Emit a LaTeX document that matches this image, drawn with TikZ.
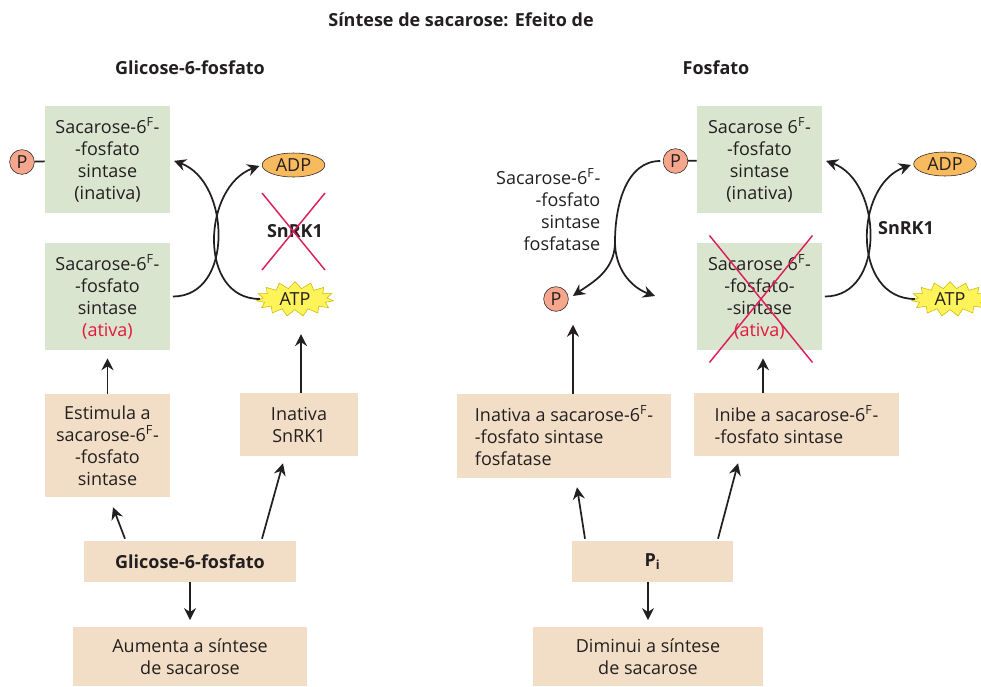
\documentclass[tikz,border=0pt]{standalone}
\usepackage{fontspec}
\setmainfont{Open Sans}
\usetikzlibrary{arrows.meta,shapes.geometric,shapes.symbols,calc}
\definecolor{ink}{HTML}{231F20}
\definecolor{leaf}{HTML}{D9E5CF}
\definecolor{wheat}{HTML}{F2DEC6}
\definecolor{salmon}{HTML}{F6A68C}
\definecolor{adporange}{HTML}{F8BA5E}
\definecolor{atpyellow}{HTML}{FFF35A}
\definecolor{atpedge}{HTML}{C9B800}
\definecolor{activered}{HTML}{E4173E}
\definecolor{crossred}{HTML}{DC1F5A}
\begin{document}
\begin{tikzpicture}[x=0.75pt, y=0.75pt, text=ink, font=\fontsize{13.5}{16.5}\selectfont,
    enzyme/.style={rectangle, fill=leaf, minimum width=93.75pt, minimum height=80.25pt, inner sep=0pt, align=center},
    effect/.style={rectangle, fill=wheat, inner sep=0pt, align=center},
    phos/.style={circle, draw=ink, fill=salmon, minimum size=18.5pt, inner sep=0pt},
    adp/.style={ellipse, draw=ink, fill=adporange, minimum width=47pt, minimum height=18pt, inner sep=0pt},
    atp/.style={starburst, starburst points=15, starburst point height=5pt, random starburst=0, draw=atpedge, fill=atpyellow, minimum width=58pt, minimum height=26pt, inner sep=0pt},
    head/.style={font=\fontsize{13.5}{16.5}\selectfont\bfseries},
    arr/.style={-{Stealth[length=9pt, width=9pt, inset=3pt]}, line width=1.3pt, draw=ink},
    bond/.style={line width=1.3pt, draw=ink},
    cross/.style={line width=1.1pt, draw=crossred}]
    \useasboundingbox (0,0) rectangle (981,-686);

    \node[head] (title) at (461,-20) {Síntese de sacarose: Efeito de};
    \node[head] (g6ptitle) at (190,-68) {Glicose-6-fosfato};
    \node[head] (phostitle) at (716,-68) {Fosfato};

    % glicose-6-fosfato
    \node[enzyme] (inact1) at (107.5,-159.5) {Sacarose-6\textsuperscript{F}-\\-fosfato\\sintase\\(inativa)};
    \node[enzyme] (act1) at (107.5,-296.5) {Sacarose-6\textsuperscript{F}-\\-fosfato\\sintase\\\textcolor{activered}{(ativa)}};
    \node[phos] (p1) at (22,-162) {P};
    \node[adp] (adp1) at (293.5,-165) {ADP};
    \node[atp] (atp1) at (295,-299) {ATP};
    \node[head] (snrk1) at (295,-231) {SnRK1};
    \node[effect, minimum width=93.75pt, minimum height=77.25pt] (stim) at (107.5,-445.5) {Estimula a\\sacarose-6\textsuperscript{F}-\\-fosfato\\sintase};
    \node[effect, minimum width=88.5pt, minimum height=47.25pt] (inasn) at (299,-424.5) {Inativa\\SnRK1};
    \node[effect, head, minimum width=159pt, minimum height=30.75pt] (glc) at (190,-561.5) {Glicose-6-fosfato};
    \node[effect, minimum width=175.5pt, minimum height=44.25pt] (more) at (190,-656.5) {Aumenta a síntese\\de sacarose};

    \draw[bond] (p1) -- (inact1);
    \draw[arr, shorten <=2pt, shorten >=3pt] (act1.east) to[out=0, in=-20, looseness=1.2] (inact1.east);
    \draw[arr, shorten >=2pt] (atp1.west) to[out=180, in=200, looseness=1.2] (adp1.west);
    \draw[cross] ($(snrk1)+(-33,38)$) -- ($(snrk1)+(30,-39)$);
    \draw[cross] ($(snrk1)+(30,38)$) -- ($(snrk1)+(-33,-39)$);
    \draw[arr, shorten >=6pt] (stim.north) -- (act1.south);
    \draw[arr, shorten >=7pt] ($(inasn.north)+(2,0)$) -- ($(inasn.north)+(2,68)$);
    \draw[arr] ($(glc.north)+(-65,2)$) -- ($(stim.south)+(5.5,-10)$);
    \draw[arr] ($(glc.north)+(72,2)$) -- ($(inasn.south)+(-16,-7)$);
    \draw[arr, shorten >=5pt] (glc.south) -- (more.north);

    % fosfato
    \node[enzyme] (inact2) at (759.5,-159.5) {Sacarose 6\textsuperscript{F}-\\-fosfato\\sintase\\(inativa)};
    \node[enzyme] (act2) at (759.5,-296.5) {Sacarose 6\textsuperscript{F}-\\-fosfato-\\-sintase\\\textcolor{activered}{(ativa)}};
    \node[phos] (p2) at (675.5,-161) {P};
    \node[phos] (pfree) at (556,-299) {P};
    \node[adp] (adp2) at (945,-164) {ADP};
    \node[atp] (atp2) at (950,-299) {ATP};
    \node[head] (snrk2) at (906,-228) {SnRK1};
    \node[anchor=east, align=right] (spp) at (605,-210) {Sacarose-6\textsuperscript{F}-\\-fosfato\\sintase\\fosfatase};
    \coordinate (split) at (615,-242);
    \coordinate (fend) at (655,-296);
    \node[effect, align=left, minimum width=160.5pt, minimum height=63pt] (inspp) at (564,-436) {Inativa a sacarose-6\textsuperscript{F}-\\-fosfato sintase\\fosfatase};
    \node[effect, align=left, minimum width=153.75pt, minimum height=47.25pt] (inibe) at (796.5,-424.5) {Inibe a sacarose-6\textsuperscript{F}-\\-fosfato sintase};
    \node[effect, head, minimum width=120.75pt, minimum height=30.75pt] (pi) at (652.5,-561.5) {P\textsubscript{i}};
    \node[effect, minimum width=172.5pt, minimum height=44.25pt] (less) at (648,-656.5) {Diminui a síntese\\de sacarose};

    \draw[bond] (p2) -- (inact2);
    \draw[arr, shorten <=2pt, shorten >=3pt] (act2.east) to[out=0, in=-20, looseness=1.2] (inact2.east);
    \draw[arr, shorten >=2pt] (atp2.west) to[out=180, in=200, looseness=1.2] (adp2.west);
    \draw[arr, shorten <=2pt, shorten >=4pt] (p2.west) to[out=180, in=90] (split) to[out=-90, in=35] (pfree.east);
    \draw[arr] (split) to[out=-90, in=160] (fend);
    \draw[cross] ($(act2)+(-50,61)$) -- ($(act2)+(53,-66)$);
    \draw[cross] ($(act2)+(53,61)$) -- ($(act2)+(-50,-66)$);
    \draw[arr] ($(inspp.north)+(9,0)$) -- ($(inspp.north)+(9,69)$);
    \draw[arr] ($(inibe.north)+(-33.5,0)$) -- ($(act2.south)+(3.5,-8)$);
    \draw[arr] ($(pi.north)+(-67.5,2)$) -- ($(inspp.south)+(13,-9)$);
    \draw[arr] ($(pi.north)+(65.5,2)$) -- ($(inibe.south)+(-58.5,-7)$);
    \draw[arr, shorten >=5pt] (less.north |- pi.south) -- (less.north);
\end{tikzpicture}
\end{document}
